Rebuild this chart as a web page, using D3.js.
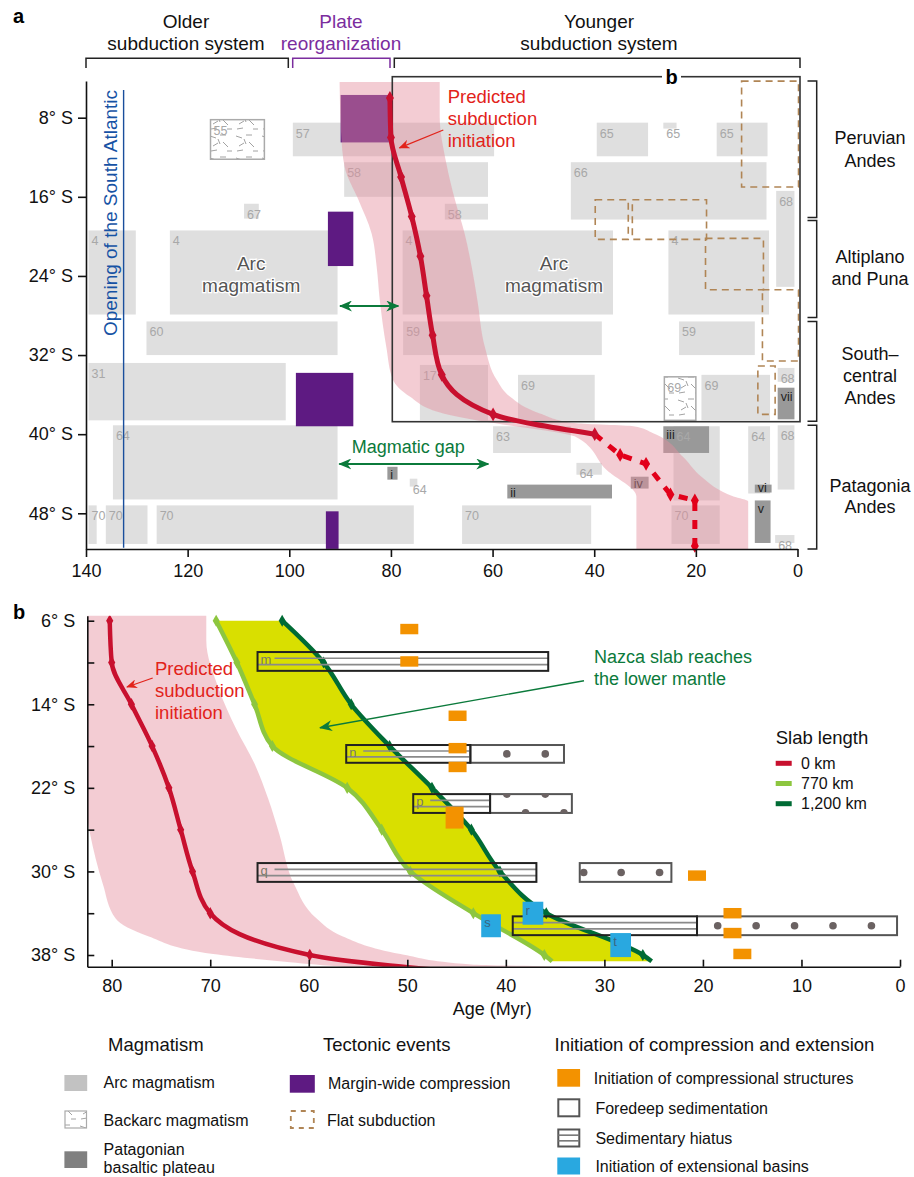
<!DOCTYPE html>
<html lang="en">
<head>
<meta charset="UTF-8">
<title>Andes subduction history</title>
<style>
  body { margin: 0; background: #fff; }
  svg { font-family: "Liberation Sans", Arial, sans-serif; display: block; }
</style>
</head>
<body>
<div class="warp"></div>
<script src="https://cdn.jsdelivr.net/npm/d3@7"></script>
<script>
// ---------- data: panel a ----------
// blocks are [older age, younger age, north lat, south lat, label]
var arcBlocks = [
  [139.5, 130.2, 19.4, 27.9, '4'],
  [123.5, 90.5, 19.4, 27.9, '4'],
  [77.7, 36.3, 19.4, 27.9, '4'],
  [25.4, 5.6, 19.4, 27.9, '4'],
  [99.3, 59.7, 8.5, 11.9, '57'],
  [89.2, 60.9, 12.5, 16.0, '58'],
  [69.4, 60.9, 16.7, 18.3, '58'],
  [108.9, 106.0, 16.7, 18.2, '67'],
  [39.5, 29.4, 8.5, 11.9, '65'],
  [26.4, 23.8, 8.5, 9.1, '65'],
  [15.9, 5.9, 8.5, 11.9, '65'],
  [44.6, 6.1, 12.5, 18.3, '66'],
  [4.2, 0.6, 15.4, 25.1, '68'],
  [128.1, 90.5, 28.6, 32.0, '60'],
  [77.6, 38.5, 28.6, 32.0, '59'],
  [23.3, 8.4, 28.6, 32.0, '59'],
  [139.5, 100.7, 32.8, 38.6, '31'],
  [74.3, 60.9, 33.0, 38.6, '17'],
  [55.0, 39.9, 34.0, 38.6, '69'],
  [18.9, 5.4, 34.0, 38.6, '69'],
  [3.9, 0.6, 33.3, 34.7, '68'],
  [59.9, 44.6, 39.2, 41.9, '63'],
  [134.7, 90.5, 39.1, 46.6, '64'],
  [76.3, 74.8, 44.5, 45.3, '64'],
  [43.5, 38.5, 42.9, 44.1, '64'],
  [24.4, 15.3, 39.2, 46.7, '64'],
  [9.7, 5.4, 39.2, 46.0, '64'],
  [3.9, 0.6, 39.1, 45.6, '68'],
  [4.4, 0.6, 50.2, 51.0, '68'],
  [139.5, 137.9, 47.2, 51.1, '70'],
  [136.1, 127.9, 47.2, 51.1, '70'],
  [126.1, 75.5, 47.2, 51.1, '70'],
  [66.0, 40.6, 47.2, 51.1, '70'],
  [24.8, 15.3, 47.2, 51.1, '70']
];
var backarcBlocks = [
  [115.5, 104.9, 8.2, 12.2, '55'],
  [26.2, 20.0, 34.2, 38.6, '69']
];
var plateauBlocks = [
  [80.7, 78.7, 43.3, 44.6, 'i'],
  [57.1, 36.5, 45.1, 46.5, 'ii'],
  [26.4, 17.4, 39.2, 41.9, 'iii'],
  [32.8, 29.3, 44.3, 45.5, 'iv'],
  [8.4, 5.3, 46.7, 51.0, 'v'],
  [8.4, 5.1, 45.1, 45.9, 'vi'],
  [3.9, 0.6, 35.3, 38.5, 'vii']
];
var compressionBlocks = [
  [89.9, 79.9, 5.7, 10.5],
  [92.4, 87.4, 17.5, 23.0],
  [98.7, 87.4, 33.8, 39.2],
  [92.8, 90.3, 47.8, 51.6]
];
var flatSlabBoxes = [
  [11.0, -0.2, 4.3, 15.0],
  [39.8, 33.3, 16.3, 20.3],
  [32.5, 17.9, 16.3, 20.3],
  [18.1, 6.7, 20.2, 25.4],
  [6.9, -0.2, 25.4, 32.6],
  [7.8, 4.4, 33.1, 38.0]
];
var atlanticOpening = 132.6;
var regionNames = [['Peruvian', 'Andes'], ['Altiplano', 'and Puna'], ['South\u2013', 'central', 'Andes'], ['Patagonia', 'Andes']];
var regionLats = [[4.3, 18.1], [18.4, 28.2], [28.6, 38.7], [39.1, 51.6]];

// predicted subduction initiation (both panels)
var redAge = [80.2, 80.0, 78.0, 75.9, 74.2, 73.0, 71.8, 70.0, 59.9, 39.9];
var redLat = [6, 10, 14, 18, 22, 26, 30, 34, 38, 40];
var redDashAge = [39.9, 34.9, 29.8, 25.0, 20.2, 20.2];
var redDashLat = [40, 42.1, 43.0, 46.1, 46.7, 51.3];
var bandLeftAge = [90.1, 89.8, 89.1, 86.4, 83.8, 82.8, 82.2, 80.9, 79.6, 76.3, 69.7, 61.9, 43.5, 37.6, 31.7, 31.7];
var bandLeftLat = [4.4, 9.6, 13.0, 16.3, 19.7, 23.1, 26.4, 31.2, 34.5, 36.2, 37.9, 38.7, 40.3, 43.6, 46.3, 51.6];
var bandRightAge = [70.4, 70.4, 69.1, 67.4, 65.5, 64.1, 63.0, 61.5, 59.2, 56.6, 50.7, 43.5, 32.3, 28.4, 22.5, 18.9, 12.6, 9.7, 9.7];
var bandRightLat = [4.4, 7.9, 12.6, 16.3, 19.7, 23.1, 26.4, 31.2, 34.5, 36.2, 37.9, 38.9, 39.2, 39.9, 42.3, 44.3, 46.3, 46.8, 51.6];

// ---------- data: panel b ----------
var slab770Age = [69.4, 67.3, 65.5, 63.7, 56.1, 52.6, 49.7, 43.3, 36.1, 35.3];
var slab770Lat = [6, 10, 14, 18, 22, 26, 30, 34, 38, 38.6];
var slab1200Age = [62.7, 58.5, 55.7, 51.8, 47.5, 43.5, 40.6, 35.9, 26.1, 25.2];
var slab1200Lat = [6, 10, 14, 18, 22, 26, 30, 34, 38, 38.6];
var hiatusBars = [
  [65.2, 35.7, 9.0, 10.8, 'm'],
  [56.2, 43.6, 17.9, 19.6, 'n'],
  [49.4, 41.6, 22.6, 24.4, 'p'],
  [65.2, 36.9, 29.2, 31.0, 'q'],
  [39.3, 20.6, 34.3, 36.1, '']
];
var foredeepBars = [
  [43.6, 34.1, 17.9, 19.6],
  [41.6, 33.3, 22.6, 24.4],
  [32.5, 23.2, 29.2, 31.0],
  [20.6, 0.3, 34.3, 36.1]
];
// [foredeep bar index, age, lat]
var foredeepDots = [
  [0, 39.9, 18.75], [0, 36.0, 18.75],
  [1, 39.9, 22.6], [1, 36.0, 22.6], [1, 38.0, 24.4], [1, 34.1, 24.4],
  [2, 32.1, 30.1], [2, 28.3, 30.1], [2, 24.4, 30.1],
  [3, 18.5, 35.2], [3, 14.6, 35.2], [3, 10.7, 35.2], [3, 6.8, 35.2], [3, 2.9, 35.2]
];
// [age, north lat, south lat]
var compressionStarts = [
  [49.8, 6.3, 7.3], [49.8, 9.4, 10.4],
  [44.9, 14.6, 15.6], [44.9, 17.7, 18.7], [44.9, 19.5, 20.5],
  [45.2, 23.8, 25.9], [20.6, 29.9, 30.9],
  [17.0, 33.5, 34.5], [17.0, 35.4, 36.4], [16.0, 37.4, 38.4]
];
var extensionStarts = [
  [42.5, 40.5, 34.1, 36.3, 's'],
  [38.3, 36.2, 32.9, 35.1, 'r'],
  [29.4, 27.3, 35.9, 38.2, 't']
];
var slabNames = ['0 km', '770 km', '1,200 km'];

var ticksA = [140, 120, 100, 80, 60, 40, 20, 0];
var latTicksA = [8, 16, 24, 32, 40, 48];
var ticksB = [80, 70, 60, 50, 40, 30, 20, 10, 0];
var latTicksB = [6, 10, 14, 18, 22, 26, 30, 34, 38];

// ---------- colours ----------
var RED = '#c8102e', LIGHT = '#8dc63f', DARK = '#006b35', YELLOW = '#d9df00';
var ORANGE = '#f39200', BLUE = '#29a8e0', PURPLE = '#5e1a82', BROWN = '#b08555';
var GREEN = '#0b7a3b', ARC = '#dfdfdf', PLATEAU = '#999';
var slabColors = [RED, LIGHT, DARK];

var svg = d3.select('.warp').append('svg').attr('width', 914).attr('height', 1177);
var defs = svg.append('defs');

function arrowMarker(id, color, len, wid) {
  defs.append('marker').attr('id', id)
    .attr('viewBox', '0 ' + (-wid / 2) + ' ' + len + ' ' + wid)
    .attr('refX', len - 1).attr('refY', 0)
    .attr('markerWidth', len).attr('markerHeight', wid)
    .attr('markerUnits', 'userSpaceOnUse')
    .attr('orient', 'auto-start-reverse')
    .append('path')
    .attr('d', 'M0,' + (-wid / 2) + 'L' + len + ',0L0,' + (wid / 2) + 'L' + (len * 0.3) + ',0Z')
    .attr('fill', color);
}
arrowMarker('arrG', GREEN, 13, 11);
arrowMarker('arrR', '#e2231a', 11, 9);

var crack = defs.append('pattern').attr('id', 'cracks').attr('patternUnits', 'userSpaceOnUse')
  .attr('width', 26).attr('height', 22);
crack.append('rect').attr('width', 26).attr('height', 22).attr('fill', '#fff');
[[2, 4, 8, 6], [12, 3, 18, 3], [5, 14, 10, 11], [15, 10, 20, 15], [3, 19, 9, 18], [19, 19, 24, 19], [10, 7, 12, 12]]
  .forEach(function(l) {
    crack.append('line').attr('x1', l[0]).attr('y1', l[1]).attr('x2', l[2]).attr('y2', l[3])
      .attr('stroke', '#8a8a8a').attr('stroke-width', 0.8);
  });

function box(xs, ys, d) {
  var x0 = xs(d[0]), x1 = xs(d[1]), y0 = ys(d[2]), y1 = ys(d[3]);
  return { x: Math.min(x0, x1), y: Math.min(y0, y1), w: Math.abs(x1 - x0), h: Math.abs(y1 - y0) };
}
function drawBlocks(g, data, xs, ys) {
  return g.selectAll(null).data(data).enter().append('rect')
    .attr('x', function(d) { return box(xs, ys, d).x; })
    .attr('y', function(d) { return box(xs, ys, d).y; })
    .attr('width', function(d) { return box(xs, ys, d).w; })
    .attr('height', function(d) { return box(xs, ys, d).h; });
}
function textLines(g, x, y, lines, lh, size, color, anchor, weight) {
  var t = g.append('text').attr('x', x).attr('y', y).attr('font-size', size)
    .attr('fill', color).attr('text-anchor', anchor || 'start');
  if (weight) t.attr('font-weight', weight);
  lines.forEach(function(s, i) {
    t.append('tspan').attr('x', x).attr('y', y + i * lh).text(s);
  });
  return t;
}
function bandPath(xs, ys) {
  var edge = d3.line().x(function(d) { return xs(d[0]); }).y(function(d) { return ys(d[1]); })
    .curve(d3.curveMonotoneY);
  var left = d3.zip(bandLeftAge, bandLeftLat);
  var right = d3.zip(bandRightAge, bandRightLat).reverse();
  return edge(left) + edge(right).replace('M', 'L') + 'Z';
}
function curveLine(xs, ys) {
  return d3.line().x(function(d) { return xs(d[0]); }).y(function(d) { return ys(d[1]); })
    .curve(d3.curveMonotoneY);
}
function styleAxis(g, size) {
  g.attr('font-family', null).attr('font-size', size);
  g.selectAll('path.domain').attr('stroke', '#111').attr('stroke-width', 1.6);
  g.selectAll('.tick line').attr('stroke', '#111').attr('stroke-width', 1.6);
  g.selectAll('.tick text').attr('fill', '#111');
}

// =================== PANEL A ===================
var xa = d3.scaleLinear().domain([140, 0]).range([86, 797.5]);
var ya = d3.scaleLinear().domain([8, 48]).range([117.7, 513.3]);
var A = svg.append('g');

A.append('text').attr('x', 13).attr('y', 23).attr('font-size', 20).attr('font-weight', 'bold').text('a');

// top brackets
var topGroups = [
  { lines: ['Older', 'subduction system'], x0: 86, x1: 288.3, cx: 186, color: '#111' },
  { lines: ['Plate', 'reorganization'], x0: 292.7, x1: 390, cx: 341, color: '#7b2d9e' },
  { lines: ['Younger', 'subduction system'], x0: 394.3, x1: 800, cx: 599, color: '#111' }
];
topGroups.forEach(function(t) {
  A.append('path').attr('d', 'M' + t.x0 + ',68V58.3H' + t.x1 + 'V68')
    .attr('fill', 'none').attr('stroke', t.color === '#111' ? '#222' : t.color).attr('stroke-width', 1.5);
  textLines(A, t.cx, 28, t.lines, 22, 19, t.color, 'middle');
});

// arc magmatism
drawBlocks(A, arcBlocks, xa, ya).attr('fill', ARC);
drawBlocks(A, backarcBlocks, xa, ya).attr('fill', 'url(#cracks)').attr('stroke', '#aaa').attr('stroke-width', 1.5);
drawBlocks(A, plateauBlocks, xa, ya).attr('fill', PLATEAU);
A.selectAll(null).data(arcBlocks.concat(backarcBlocks)).enter().append('text')
  .attr('x', function(d) { return box(xa, ya, d).x + 3; })
  .attr('y', function(d) { return box(xa, ya, d).y + 15; })
  .attr('font-size', 12.5).attr('fill', '#a8a8a8').text(function(d) { return d[4]; });
A.selectAll(null).data(plateauBlocks).enter().append('text')
  .attr('x', function(d) { return box(xa, ya, d).x + 3; })
  .attr('y', function(d) { var b = box(xa, ya, d); return b.y + Math.min(13, b.h - 1); })
  .attr('font-size', 12.5).attr('fill', '#222').text(function(d) { return d[4]; });

// margin-wide compression
drawBlocks(A, compressionBlocks, xa, ya).attr('fill', PURPLE);

// predicted subduction initiation band
A.append('path').attr('d', bandPath(xa, ya)).attr('fill', '#e58f9e').attr('fill-opacity', 0.45);

// flat subduction
drawBlocks(A, flatSlabBoxes, xa, ya).attr('fill', 'none').attr('stroke', BROWN)
  .attr('stroke-width', 1.6).attr('stroke-dasharray', '7,5');

// box that panel b zooms into
A.append('rect').attr('x', 392.3).attr('y', 76.7).attr('width', 800 - 392.3).attr('height', 421.7 - 76.7)
  .attr('fill', 'none').attr('stroke', '#333').attr('stroke-width', 1.6);
A.append('rect').attr('x', 662).attr('y', 66).attr('width', 19).attr('height', 20).attr('fill', '#fff');
A.append('text').attr('x', 671.7).attr('y', 83.5).attr('text-anchor', 'middle')
  .attr('font-size', 20).attr('font-weight', 'bold').text('b');

// opening of the South Atlantic
A.append('line').attr('x1', xa(atlanticOpening)).attr('x2', xa(atlanticOpening))
  .attr('y1', 90).attr('y2', 547.7).attr('stroke', '#1a4f9c').attr('stroke-width', 1.4);
A.append('text').attr('transform', 'translate(116.5,213) rotate(-90)').attr('text-anchor', 'middle')
  .attr('font-size', 19).attr('fill', '#1652a4').text('Opening of the South Atlantic');

// red curve
var redPts = d3.zip(redAge, redLat);
var redDash = d3.zip(redDashAge, redDashLat);
A.append('path').attr('d', curveLine(xa, ya)(redPts)).attr('fill', 'none')
  .attr('stroke', RED).attr('stroke-width', 5);
A.append('path').attr('d', d3.line().x(function(d) { return xa(d[0]); }).y(function(d) { return ya(d[1]); })(redDash))
  .attr('fill', 'none').attr('stroke', '#e2001a').attr('stroke-width', 5).attr('stroke-dasharray', '9,9');
A.selectAll(null).data(redPts.concat(redDash.slice(1))).enter().append('path')
  .attr('d', d3.symbol(d3.symbolDiamond, 55))
  .attr('transform', function(d) { return 'translate(' + xa(d[0]) + ',' + ya(d[1]) + ')'; })
  .attr('fill', function(d, i) { return i < redPts.length ? RED : '#e2001a'; });

textLines(A, 447.7, 103.3, ['Predicted', 'subduction', 'initiation'], 21.7, 18.5, '#e2231a');
A.append('line').attr('x1', 443.3).attr('y1', 130).attr('x2', 399.5).attr('y2', 147.8)
  .attr('stroke', '#e2231a').attr('stroke-width', 1.3).attr('marker-end', 'url(#arrR)');

// green arrows
A.append('line').attr('x1', 340).attr('x2', 398.3).attr('y1', 306).attr('y2', 306)
  .attr('stroke', GREEN).attr('stroke-width', 2).attr('marker-start', 'url(#arrG)').attr('marker-end', 'url(#arrG)');
A.append('line').attr('x1', 339.3).attr('x2', 488.3).attr('y1', 464).attr('y2', 464)
  .attr('stroke', GREEN).attr('stroke-width', 2).attr('marker-start', 'url(#arrG)').attr('marker-end', 'url(#arrG)');
A.append('text').attr('x', 351.7).attr('y', 453.3).attr('font-size', 18).attr('fill', GREEN).text('Magmatic gap');

// arc magmatism labels
[[107.5, 270], [47.9, 270]].forEach(function(p) {
  textLines(A, xa(p[0]), p[1], ['Arc', 'magmatism'], 21.7, 19, '#555', 'middle')
    .attr('stroke', '#fff').attr('stroke-width', 2.5).attr('paint-order', 'stroke');
});

// region brackets
var regionY = [[144, 166.7], [263.3, 285], [360, 381.7, 404], [491.7, 513.3]];
regionLats.forEach(function(r, i) {
  var y0 = ya(r[0]), y1 = ya(r[1]);
  A.append('path').attr('d', 'M807.5,' + y0 + 'H816.7V' + y1 + 'H807.5')
    .attr('fill', 'none').attr('stroke', '#222').attr('stroke-width', 1.5);
  var t = A.append('text').attr('font-size', 18).attr('text-anchor', 'middle').attr('fill', '#111');
  regionNames[i].forEach(function(s, j) {
    t.append('tspan').attr('x', 870).attr('y', regionY[i][j]).text(s);
  });
});

// axes a
var yaAxisScale = d3.scaleLinear().domain([ya.invert(81), ya.invert(549)]).range([81, 549]);
var gya = A.append('g').attr('transform', 'translate(86,0)')
  .call(d3.axisLeft(yaAxisScale).tickValues(latTicksA).tickSize(8).tickSizeOuter(0).tickPadding(5)
    .tickFormat(function(d) { return d + '\u00b0 S'; }));
styleAxis(gya, 18);
var gxa = A.append('g').attr('transform', 'translate(0,549)')
  .call(d3.axisBottom(xa).tickValues(ticksA).tickSize(8).tickSizeOuter(0).tickPadding(7));
styleAxis(gxa, 18);

// =================== PANEL B ===================
var xb = d3.scaleLinear().domain([80, 0]).range([111.7, 900]);
var yb = d3.scaleLinear().domain([6, 38]).range([620.7, 955]);
var B = svg.append('g');
var bLeft = 87.3, bTop = 615.7, bBottom = 966.7;

defs.append('clipPath').attr('id', 'clipB').append('rect')
  .attr('x', bLeft).attr('y', bTop).attr('width', 900 - bLeft).attr('height', bBottom - bTop);

B.append('text').attr('x', 13).attr('y', 619).attr('font-size', 20).attr('font-weight', 'bold').text('b');

var plotB = B.append('g').attr('clip-path', 'url(#clipB)');
plotB.append('path').attr('d', bandPath(xb, yb)).attr('fill', '#e58f9e').attr('fill-opacity', 0.45);
plotB.append('path').attr('d', curveLine(xb, yb)(redPts)).attr('fill', 'none')
  .attr('stroke', RED).attr('stroke-width', 4.5);
plotB.selectAll(null).data(redPts.slice(0, 9)).enter().append('path')
  .attr('d', d3.symbol(d3.symbolDiamond, 45))
  .attr('transform', function(d) { return 'translate(' + xb(d[0]) + ',' + yb(d[1]) + ')'; })
  .attr('fill', RED);

// slab area between 770 km and 1,200 km
var p770 = d3.zip(slab770Age, slab770Lat);
var p1200 = d3.zip(slab1200Age, slab1200Lat);
var lb = curveLine(xb, yb);
B.append('path').attr('d', lb(p770) + lb(p1200.slice().reverse()).replace('M', 'L') + 'Z')
  .attr('fill', YELLOW);
[[p770, LIGHT], [p1200, DARK]].forEach(function(s) {
  B.append('path').attr('d', lb(s[0])).attr('fill', 'none').attr('stroke', s[1]).attr('stroke-width', 4.5);
  B.selectAll(null).data(s[0].slice(0, 9)).enter().append('path')
    .attr('d', d3.symbol(d3.symbolDiamond, 42))
    .attr('transform', function(d) { return 'translate(' + xb(d[0]) + ',' + yb(d[1]) + ')'; })
    .attr('fill', s[1]);
});

// foredeep sedimentation
drawBlocks(B, foredeepBars, xb, yb).attr('fill', 'none').attr('stroke', '#555').attr('stroke-width', 2);
foredeepBars.forEach(function(d, i) {
  var b = box(xb, yb, d);
  defs.append('clipPath').attr('id', 'fd' + i).append('rect')
    .attr('x', b.x).attr('y', b.y).attr('width', b.w).attr('height', b.h);
});
B.selectAll(null).data(foredeepDots).enter().append('circle')
  .attr('clip-path', function(d) { return 'url(#fd' + d[0] + ')'; })
  .attr('cx', function(d) { return xb(d[1]); }).attr('cy', function(d) { return yb(d[2]); })
  .attr('r', 3.8).attr('fill', '#6b6262');

// sedimentary hiatus
hiatusBars.forEach(function(d) {
  var b = box(xb, yb, d);
  var g = B.append('g');
  [1, 2].forEach(function(k) {
    var x0 = (k === 1 && d[4]) ? b.x + 17 : b.x;
    g.append('line').attr('x1', x0).attr('x2', b.x + b.w)
      .attr('y1', b.y + b.h * k / 3).attr('y2', b.y + b.h * k / 3)
      .attr('stroke', '#8a8a8a').attr('stroke-width', 1.6);
  });
  g.append('rect').attr('x', b.x).attr('y', b.y).attr('width', b.w).attr('height', b.h)
    .attr('fill', 'none').attr('stroke', '#222').attr('stroke-width', 2);
  g.append('text').attr('x', b.x + 3).attr('y', b.y + 12).attr('font-size', 13)
    .attr('fill', '#7a7a6a').text(d[4]);
});

// initiation of compressional structures
B.selectAll(null).data(compressionStarts).enter().append('rect')
  .attr('x', function(d) { return xb(d[0]) - 9; })
  .attr('y', function(d) { return yb(d[1]); })
  .attr('width', 18)
  .attr('height', function(d) { return yb(d[2]) - yb(d[1]); })
  .attr('fill', ORANGE);

// initiation of extensional basins
drawBlocks(B, extensionStarts, xb, yb).attr('fill', BLUE);
B.selectAll(null).data(extensionStarts).enter().append('text')
  .attr('x', function(d) { return box(xb, yb, d).x + 3; })
  .attr('y', function(d) { return box(xb, yb, d).y + 13; })
  .attr('font-size', 13).attr('fill', '#3a6680').text(function(d) { return d[4]; });

// annotations b
textLines(B, 155, 675, ['Predicted', 'subduction', 'initiation'], 22, 18.5, '#e2231a');
B.append('line').attr('x1', 152.7).attr('y1', 678).attr('x2', 127).attr('y2', 687)
  .attr('stroke', '#e2231a').attr('stroke-width', 1.3).attr('marker-end', 'url(#arrR)');
textLines(B, 594, 662.7, ['Nazca slab reaches', 'the lower mantle'], 22.3, 18, GREEN);
B.append('line').attr('x1', 584).attr('y1', 680.7).attr('x2', 320).attr('y2', 727.7)
  .attr('stroke', GREEN).attr('stroke-width', 1.4).attr('marker-end', 'url(#arrG)');

// slab length legend
B.append('text').attr('x', 775.7).attr('y', 744).attr('font-size', 18.5).attr('fill', '#111').text('Slab length');
slabNames.forEach(function(s, i) {
  B.append('rect').attr('x', 775.7).attr('y', 760.8 + i * 20.2).attr('width', 16).attr('height', 5)
    .attr('fill', slabColors[i]);
  B.append('text').attr('x', 801).attr('y', 769 + i * 20).attr('font-size', 16).attr('fill', '#111').text(s);
});

// axes b
var ybAxisScale = d3.scaleLinear().domain([yb.invert(bTop), yb.invert(bBottom)]).range([bTop, bBottom]);
var gyb = B.append('g').attr('transform', 'translate(' + bLeft + ',0)')
  .call(d3.axisLeft(ybAxisScale).tickValues(latTicksB).tickSize(-7).tickSizeOuter(0).tickPadding(12)
    .tickFormat(function(d, i) { return i % 2 === 0 ? d + '\u00b0 S' : ''; }));
styleAxis(gyb, 18);
var xbAxisScale = d3.scaleLinear().domain([xb.invert(bLeft), 0]).range([bLeft, 900]);
var gxb = B.append('g').attr('transform', 'translate(0,' + bBottom + ')')
  .call(d3.axisBottom(xbAxisScale).tickValues(ticksB).tickSize(-7).tickSizeOuter(0).tickPadding(13));
styleAxis(gxb, 18);
B.append('text').attr('x', 492.3).attr('y', 1015).attr('text-anchor', 'middle')
  .attr('font-size', 18).attr('fill', '#111').text('Age (Myr)');

// =================== LEGEND ===================
var L = svg.append('g').attr('font-size', 16).attr('fill', '#111');
L.append('text').attr('x', 108).attr('y', 1051).attr('font-size', 18.5).text('Magmatism');
L.append('text').attr('x', 323).attr('y', 1051).attr('font-size', 18.5).text('Tectonic events');
L.append('text').attr('x', 554.5).attr('y', 1051).attr('font-size', 18.5).text('Initiation of compression and extension');

L.append('rect').attr('x', 64.4).attr('y', 1075).attr('width', 22.8).attr('height', 16).attr('fill', '#c2c2c2');
L.append('text').attr('x', 103.6).attr('y', 1088).text('Arc magmatism');
L.append('rect').attr('x', 65).attr('y', 1111).attr('width', 21.5).attr('height', 17)
  .attr('fill', 'url(#cracks)').attr('stroke', '#aaa').attr('stroke-width', 1.2);
L.append('text').attr('x', 103.6).attr('y', 1126).text('Backarc magmatism');
L.append('rect').attr('x', 64.4).attr('y', 1151.3).attr('width', 22.8).attr('height', 16.7).attr('fill', '#808080');
textLines(L, 103.6, 1155, ['Patagonian', 'basaltic plateau'], 17.5, 16, '#111');

L.append('rect').attr('x', 289.8).attr('y', 1075).attr('width', 25).attr('height', 17.7).attr('fill', PURPLE);
L.append('text').attr('x', 328).attr('y', 1089).text('Margin-wide compression');
L.append('rect').attr('x', 290.8).attr('y', 1111).attr('width', 23).attr('height', 17)
  .attr('fill', 'none').attr('stroke', BROWN).attr('stroke-width', 1.8).attr('stroke-dasharray', '5,5');
L.append('text').attr('x', 327).attr('y', 1126).text('Flat subduction');

L.append('rect').attr('x', 557.3).attr('y', 1069).attr('width', 22.8).attr('height', 17.7).attr('fill', ORANGE);
L.append('text').attr('x', 593.8).attr('y', 1084).text('Initiation of compressional structures');
L.append('rect').attr('x', 558.3).attr('y', 1099.3).attr('width', 21).attr('height', 17)
  .attr('fill', '#fff').attr('stroke', '#555').attr('stroke-width', 2);
L.append('text').attr('x', 595.4).attr('y', 1114).text('Foredeep sedimentation');
L.append('rect').attr('x', 558.3).attr('y', 1129.5).attr('width', 21).attr('height', 17)
  .attr('fill', '#fff').attr('stroke', '#555').attr('stroke-width', 2);
[1, 2].forEach(function(k) {
  L.append('line').attr('x1', 558.3).attr('x2', 579.3).attr('y1', 1129.5 + 17 * k / 3).attr('y2', 1129.5 + 17 * k / 3)
    .attr('stroke', '#777').attr('stroke-width', 1.6);
});
L.append('text').attr('x', 595.4).attr('y', 1144).text('Sedimentary hiatus');
L.append('rect').attr('x', 557.3).attr('y', 1157.5).attr('width', 22.8).attr('height', 17).attr('fill', BLUE);
L.append('text').attr('x', 595.4).attr('y', 1172).text('Initiation of extensional basins');
</script>
</body>
</html>
